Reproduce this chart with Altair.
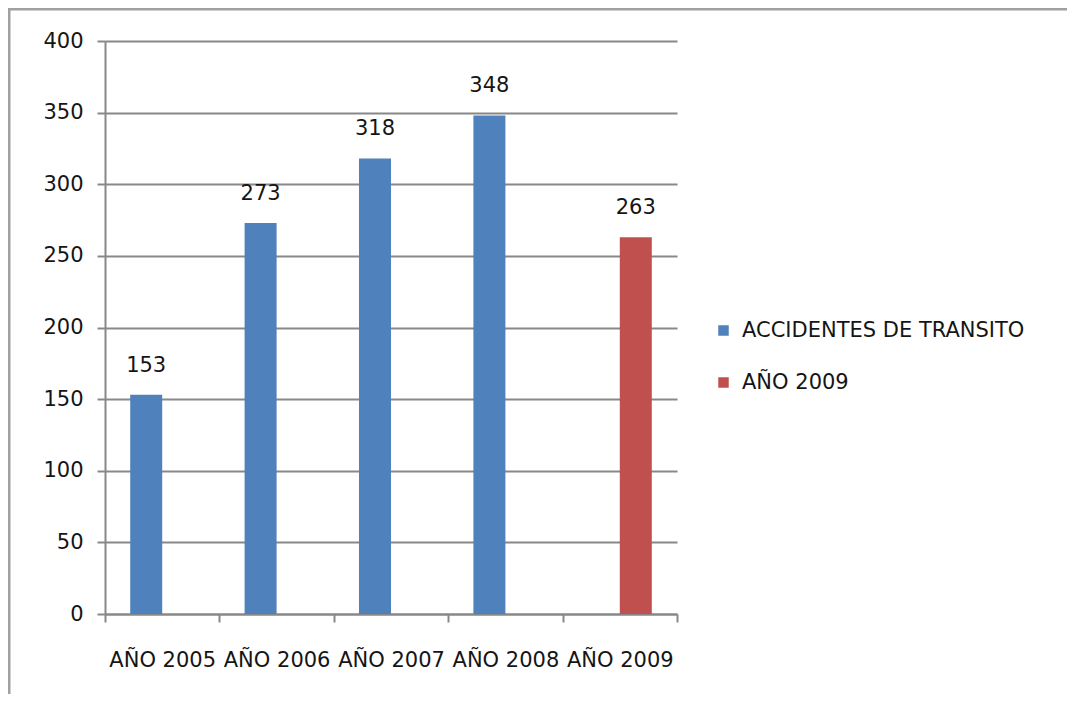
import altair as alt
import pandas as pd

categories = ["AÑO 2005", "AÑO 2006", "AÑO 2007", "AÑO 2008", "AÑO 2009"]
series = ["ACCIDENTES DE TRANSITO", "ACCIDENTES DE TRANSITO", "ACCIDENTES DE TRANSITO",
          "ACCIDENTES DE TRANSITO", "AÑO 2009"]
values = [153, 273, 318, 348, 263]
series_order = ["ACCIDENTES DE TRANSITO", "AÑO 2009"]
series_colors = ["#4f81bd", "#c0504d"]
y_ticks = [0, 50, 100, 150, 200, 250, 300, 350, 400]

df = pd.DataFrame({"cat": categories, "serie": series, "valor": values})

FONT = "DejaVu Sans"
FS = 21
GRAY = "#888888"
TXT = "#151515"

x_enc = alt.X("cat:N", sort=categories, title=None,
              scale=alt.Scale(paddingInner=0, paddingOuter=0),
              axis=alt.Axis(labelAngle=0, labelFontSize=FS, labelFont=FONT, labelColor=TXT,
                            labelPadding=27, tickBand="extent", tickExtra=True,
                            ticks=True, tickSize=8, tickColor=GRAY, tickWidth=2,
                            domainColor=GRAY, domainWidth=2, grid=False))
xo_enc = alt.XOffset("serie:N", sort=series_order,
                     scale=alt.Scale(domain=series_order, paddingInner=0, paddingOuter=0.7875))
y_enc = alt.Y("valor:Q", title=None,
              scale=alt.Scale(domain=[0, 400], nice=False),
              axis=alt.Axis(values=y_ticks, labelFontSize=FS, labelFont=FONT, labelColor=TXT,
                            labelPadding=14, tickSize=8, tickColor=GRAY, tickWidth=2,
                            domainColor=GRAY, domainWidth=2, grid=True,
                            gridColor=GRAY, gridWidth=2, gridOpacity=1))

bars = alt.Chart(df).mark_bar().encode(
    x=x_enc, xOffset=xo_enc, y=y_enc,
    color=alt.Color("serie:N", sort=series_order,
                    scale=alt.Scale(domain=series_order, range=series_colors),
                    legend=alt.Legend(title=None, orient="none", legendX=608, legendY=279,
                                      symbolType="square", symbolSize=110,
                                      symbolStrokeWidth=0, labelFontSize=FS, labelFont=FONT,
                                      labelColor=TXT, rowPadding=30, labelOffset=8,
                                      labelLimit=400)),
)

labels = alt.Chart(df).mark_text(dy=-29, baseline="middle", fontSize=FS, font=FONT,
                                 color=TXT).encode(
    x=alt.X("cat:N", sort=categories), xOffset=xo_enc, y=alt.Y("valor:Q"),
    text=alt.Text("valor:Q"),
)

frame_df = pd.DataFrame({"k": ["top"]})
frame_top = alt.Chart(frame_df).mark_rule(color="#a0a0a0", strokeWidth=3).encode(
    x=alt.value(-97), x2=alt.value(965), y=alt.value(-32))
frame_left = alt.Chart(frame_df).mark_rule(color="#a0a0a0", strokeWidth=3).encode(
    x=alt.value(-96), y=alt.value(-33), y2=alt.value(661))

chart = alt.layer(bars, labels, frame_top, frame_left).properties(
    width=572, height=573,
    padding={"left": 97, "top": 33, "right": 390, "bottom": 80},
    autosize=alt.AutoSizeParams(type="none"),
    background="white",
).configure_view(stroke=None)

chart.save("out.html", embed_options={"renderer": "svg", "actions": False})
